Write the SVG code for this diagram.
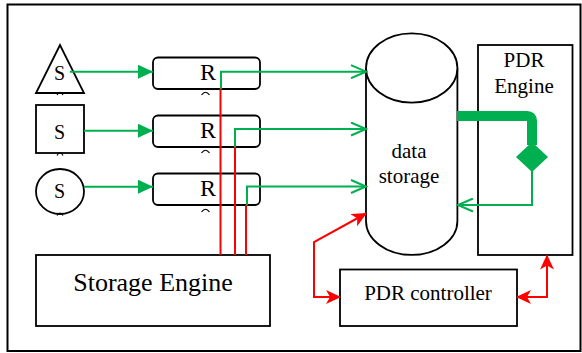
<svg xmlns="http://www.w3.org/2000/svg" width="582" height="353" viewBox="0 0 582 353">
<style>
.box{fill:#fff;stroke:#000;stroke-width:1.8}
.t{font-family:"Liberation Serif","Times New Roman",serif;fill:#000;text-anchor:middle}
.g{fill:none;stroke:#00b050;stroke-width:2}
.r{fill:none;stroke:#ff0000;stroke-width:2}
.tick{fill:none;stroke:#000;stroke-width:1.2}
</style>
<defs>
<marker id="gf" viewBox="0 0 15 14" refX="15" refY="7" markerWidth="15" markerHeight="14" markerUnits="userSpaceOnUse" orient="auto">
<path d="M0,0 L15,7 L0,14 z" fill="#00b050"/>
</marker>
<marker id="go" viewBox="-1 -1 18 15" refX="15" refY="6.5" markerWidth="18" markerHeight="15" markerUnits="userSpaceOnUse" orient="auto">
<path d="M0,0 L15,6.5 L0,13" fill="none" stroke="#00b050" stroke-width="2"/>
</marker>
<marker id="rs" viewBox="0 0 15 14" refX="14" refY="7" markerWidth="15" markerHeight="14" markerUnits="userSpaceOnUse" orient="auto-start-reverse">
<path d="M0,0 L15,7 L0,14 L4,7 z" fill="#ff0000"/>
</marker>
</defs>
<rect x="7.5" y="4.5" width="573" height="346.5" fill="#fff" stroke="#000" stroke-width="2"/>

<g id="s-triangle">
<polygon class="box" points="60,45 36,93 84,93"/>
<text class="t" x="59.5" y="79.5" font-size="20">S</text>
<path class="tick" d="M57,95 Q60,89.5 63,95"/>
</g>
<g id="s-square">
<rect class="box" x="36" y="105" width="48" height="48"/>
<text class="t" x="59.5" y="139" font-size="20">S</text>
<path class="tick" d="M57,155.5 Q60,150 63,155.5"/>
</g>
<g id="s-circle">
<ellipse class="box" cx="60" cy="191.5" rx="24" ry="22.5"/>
<text class="t" x="59.5" y="198" font-size="20">S</text>
<path class="tick" d="M57,215.5 Q60,210.5 63,215.5"/>
</g>

<g id="r1">
<rect class="box" x="153" y="57.5" width="107" height="31.5" rx="5"/>
<text class="t" x="208" y="79.5" font-size="24">R</text>
<path class="tick" d="M201.5,95 Q205.5,89.5 209.5,95"/>
</g>
<g id="r2">
<rect class="box" x="153" y="115.5" width="107" height="31.5" rx="5"/>
<text class="t" x="208" y="137.5" font-size="24">R</text>
<path class="tick" d="M201.5,153 Q205.5,147.5 209.5,153"/>
</g>
<g id="r3">
<rect class="box" x="153" y="173.5" width="107" height="31.5" rx="5"/>
<text class="t" x="208" y="195.5" font-size="24">R</text>
<path class="tick" d="M201.5,212 Q205.5,206.5 209.5,212"/>
</g>

<g id="data-storage">
<path class="box" d="M366,68 V221 A45.7,34 0 0 0 457.4,221 V68"/>
<ellipse class="box" cx="411.7" cy="68" rx="45.7" ry="34.7"/>
<text class="t" x="409" y="157.5" font-size="21">data</text>
<text class="t" x="409" y="182.5" font-size="21">storage</text>
</g>

<g id="pdr-engine">
<rect class="box" x="478" y="45" width="94.5" height="210"/>
<text class="t" x="524" y="67.3" font-size="21">PDR</text>
<text class="t" x="524" y="93.3" font-size="21">Engine</text>
</g>

<g id="storage-engine">
<rect class="box" x="36" y="255" width="234" height="71"/>
<text class="t" x="153" y="291" font-size="26">Storage Engine</text>
</g>

<g id="pdr-controller">
<rect class="box" x="340" y="269.5" width="177" height="56.5"/>
<text class="t" x="428" y="300" font-size="21">PDR controller</text>
</g>

<g id="connectors">
<path class="g" d="M70,71.7 H153" marker-end="url(#gf)"/>
<path class="g" d="M84,130.7 H153" marker-end="url(#gf)"/>
<path class="g" d="M84,186.7 H153" marker-end="url(#gf)"/>
<path class="r" d="M220.5,89 V255"/>
<path class="r" d="M235,147 V255"/>
<path class="r" d="M246,205 V255"/>
<path class="g" d="M221,89 V71.7 H366" marker-end="url(#go)"/>
<path class="g" d="M235,147 V129 H366" marker-end="url(#go)"/>
<path class="g" d="M247,205 V186.5 H366" marker-end="url(#go)"/>
<path d="M457,116 H527 Q532,116 532,121 V145" fill="none" stroke="#00b050" stroke-width="10" stroke-linejoin="round"/>
<polygon points="532,142 548,157 532,172 516,157" fill="#00b050"/>
<path class="g" d="M532,170 V205 H458" marker-end="url(#go)"/>
<path class="r" d="M366,213.5 L314,242 V297 H340" marker-start="url(#rs)" marker-end="url(#rs)"/>
<path class="r" d="M517,297 H547 V255.5" marker-start="url(#rs)" marker-end="url(#rs)"/>
</g>
</svg>
